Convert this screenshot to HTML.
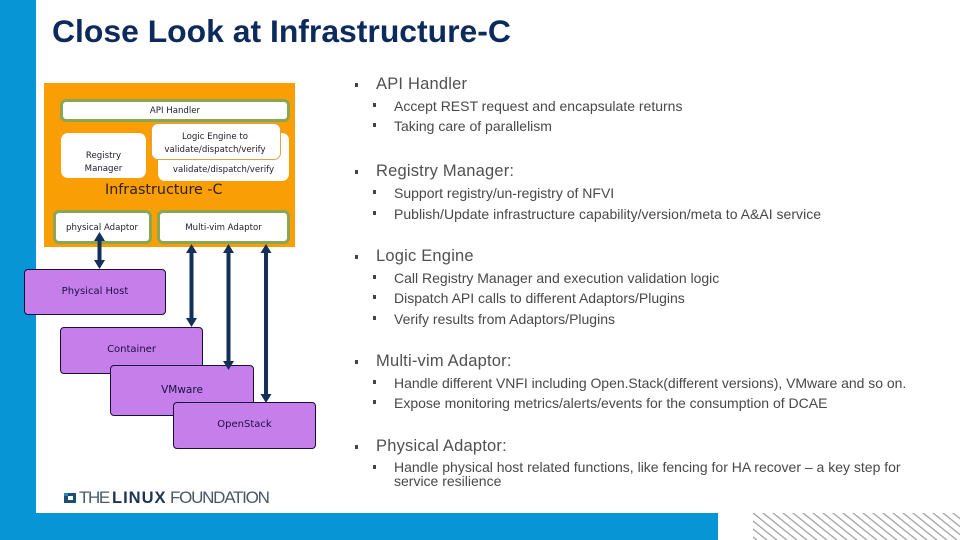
<!DOCTYPE html>
<html>
<head>
<meta charset="utf-8">
<style>
html,body{margin:0;padding:0;background:#fff}
#p{position:relative;width:960px;height:540px;overflow:hidden;background:#fff;font-family:"Liberation Sans",sans-serif}
.a{position:absolute;box-sizing:border-box}
.g{background:#fff;border:3px solid #8ba650;border-radius:6px}
.w{background:#fff;border-radius:7px}
.d{position:absolute;font-family:"DejaVu Sans",sans-serif;font-size:8.6px;line-height:14px;color:#1c1c2a;text-align:center;white-space:nowrap}
.u{position:absolute;background:#c67fea;border:1.3px solid #14103c;border-radius:4px;box-sizing:border-box}
.t{position:absolute;white-space:nowrap;color:#484848;font-size:14px;line-height:16px;letter-spacing:0}
.h{font-size:16.5px;line-height:19px;letter-spacing:.2px;color:#505050}
.b{position:absolute;width:3px;height:4px;background:#444}
</style>
</head>
<body>
<div id="p">
<div class="a" style="left:0;top:0;width:36px;height:540px;background:#0795d6"></div>
<div class="a" style="left:0;top:513px;width:718px;height:27px;background:#0795d6"></div>
<div class="a" style="left:52px;top:12px;font-size:31.9px;line-height:38px;font-weight:bold;color:#0c2a5c;white-space:nowrap">Close Look at Infrastructure-C</div>

<div class="a" style="left:44px;top:83px;width:251px;height:164px;background:#f99f05"></div>
<div class="a g" style="left:60px;top:99px;width:230px;height:23px"></div>
<div class="d" style="left:60px;top:104px;width:230px">API Handler</div>
<div class="a w" style="left:61px;top:133px;width:85px;height:45px"></div>
<div class="d" style="left:61px;top:150px;width:85px;line-height:13px">Registry<br>Manager</div>
<div class="a w" style="left:158px;top:133px;width:131px;height:48px"></div>
<div class="d" style="left:158px;top:163px;width:131px">validate/dispatch/verify</div>
<div class="a" style="left:151px;top:123px;width:130px;height:37px;background:#fff;border:1px solid #e0a050;border-radius:7px"></div>
<div class="d" style="left:151px;top:131px;width:128px;line-height:13px">Logic Engine to<br>validate/dispatch/verify</div>
<div class="d" style="left:105px;top:181px;font-size:14.3px;line-height:18px;color:#2e1f08">Infrastructure -C</div>
<div class="a g" style="left:53px;top:210px;width:99px;height:34px"></div>
<div class="d" style="left:53px;top:221px;width:98px">physical Adaptor</div>
<div class="a g" style="left:157px;top:210px;width:133px;height:34px"></div>
<div class="d" style="left:157px;top:221px;width:133px">Multi-vim Adaptor</div>

<div class="u" style="left:24px;top:269px;width:142px;height:46px"></div>
<div class="d" style="left:24px;top:285px;width:142px;font-size:10px;color:#1a0f40">Physical Host</div>
<div class="u" style="left:60px;top:327px;width:143px;height:47px"></div>
<div class="d" style="left:60px;top:343px;width:143px;font-size:10px;color:#1a0f40">Container</div>
<div class="u" style="left:110px;top:365px;width:144px;height:51px"></div>
<div class="d" style="left:110px;top:383px;width:144px;font-size:10.5px;color:#1a0f40">VMware</div>
<div class="u" style="left:173px;top:402px;width:143px;height:47px"></div>
<div class="d" style="left:173px;top:418px;width:143px;font-size:10px;color:#1a0f40">OpenStack</div>

<svg class="a" style="left:0;top:0" width="960" height="540" viewBox="0 0 960 540">
<g fill="#12305a" stroke="none">
<rect x="97.500" y="240" width="4" height="24"/><path d="M99.500 232l5.500 9h-11zM99.500 269l5.500-9h-11z"/>
<rect x="189.500" y="250" width="4" height="72"/><path d="M191.500 244l5.500 9h-11zM191.500 327l5.500-9h-11z"/>
<rect x="226.500" y="250" width="4" height="115"/><path d="M228.500 244l5.500 9h-11zM228.500 370l5.500-9h-11z"/>
<rect x="264" y="250" width="4" height="148"/><path d="M266 244l5.500 9h-11zM266 403l5.500-9h-11z"/>
</g>
</svg>

<div class="b" style="left:355px;top:83px"></div>
<div class="t h" style="left:376px;top:75px">API Handler</div>
<div class="b" style="left:373px;top:103px"></div>
<div class="t" style="left:394px;top:98px">Accept REST request and encapsulate returns</div>
<div class="b" style="left:373px;top:123px"></div>
<div class="t" style="left:394px;top:118px">Taking care of parallelism</div>

<div class="b" style="left:355px;top:170px"></div>
<div class="t h" style="left:376px;top:162px">Registry Manager:</div>
<div class="b" style="left:373px;top:190px"></div>
<div class="t" style="left:394px;top:185px">Support registry/un-registry of NFVI</div>
<div class="b" style="left:373px;top:211px"></div>
<div class="t" style="left:394px;top:206px;letter-spacing:.02px">Publish/Update infrastructure capability/version/meta to A&amp;AI service</div>

<div class="b" style="left:355px;top:255px"></div>
<div class="t h" style="left:376px;top:247px">Logic Engine</div>
<div class="b" style="left:373px;top:275px"></div>
<div class="t" style="left:394px;top:270px">Call Registry Manager and execution validation logic</div>
<div class="b" style="left:373px;top:295px"></div>
<div class="t" style="left:394px;top:290px">Dispatch API calls to different Adaptors/Plugins</div>
<div class="b" style="left:373px;top:316px"></div>
<div class="t" style="left:394px;top:311px">Verify results from Adaptors/Plugins</div>

<div class="b" style="left:355px;top:360px"></div>
<div class="t h" style="left:376px;top:352px">Multi-vim Adaptor:</div>
<div class="b" style="left:373px;top:380px"></div>
<div class="t" style="left:394px;top:375px;letter-spacing:-.03px">Handle different VNFI including Open.Stack(different versions), VMware and so on.</div>
<div class="b" style="left:373px;top:400px"></div>
<div class="t" style="left:394px;top:395px">Expose monitoring metrics/alerts/events for the consumption of DCAE</div>

<div class="b" style="left:355px;top:445px"></div>
<div class="t h" style="left:376px;top:437px">Physical Adaptor:</div>
<div class="b" style="left:373px;top:465px"></div>
<div class="t" style="left:394px;top:459px">Handle physical host related functions, like fencing for HA recover – a key step for</div>
<div class="t" style="left:394px;top:473px">service resilience</div>

<svg class="a" style="left:63px;top:492px" width="14" height="12" viewBox="0 0 14 12">
<path d="M1 1H13V11H1ZM5 4V8H10V4Z" fill="#1c4f78" fill-rule="evenodd"/>
<path d="M1 1H5V4H1Z" fill="#2a86b8"/>
</svg>
<div class="a" style="left:79px;top:489px;font-size:17px;line-height:18px;color:#48586a;letter-spacing:-1.4px;white-space:nowrap">THE</div>
<div class="a" style="left:112px;top:489px;font-size:16.5px;line-height:18px;font-weight:bold;color:#1c3553;letter-spacing:1px;white-space:nowrap">LINUX</div>
<div class="a" style="left:170px;top:489px;font-size:17px;line-height:18px;color:#48586a;letter-spacing:-1.25px;white-space:nowrap">FOUNDATION</div>

<svg class="a" style="left:753px;top:513px" width="207" height="27" viewBox="0 0 207 27">
<defs><pattern id="s" width="10" height="8" patternUnits="userSpaceOnUse"><path d="M-5-4L15 12M-5 4L5 12M5-4L15 4" stroke="#a6a6a6" stroke-width="1.300" fill="none"/></pattern></defs>
<rect width="207" height="27" fill="url(#s)"/>
</svg>
</div>
</body>
</html>
